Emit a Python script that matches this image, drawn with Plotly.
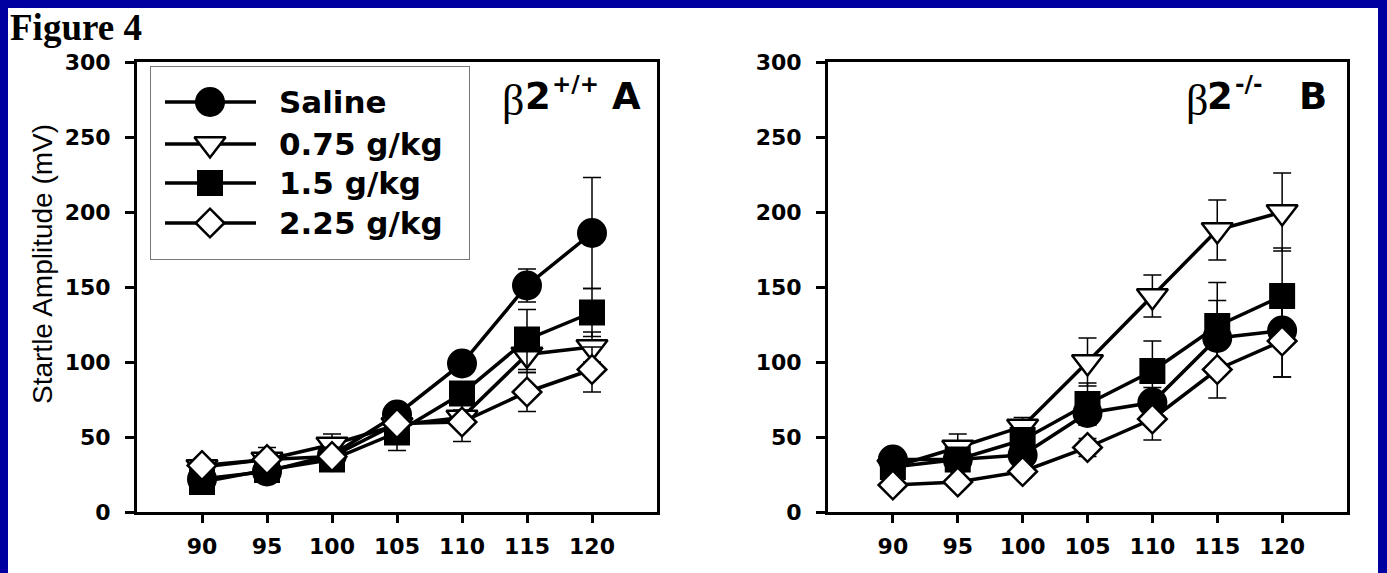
import plotly.graph_objects as go

# ---------------- data ----------------
levels = [90, 95, 100, 105, 110, 115, 120]
series_names = ["Saline", "0.75 g/kg", "1.5 g/kg", "2.25 g/kg"]

# beta2 +/+ (panel A): mean startle amplitude and SEM
a_saline = [22, 27, 38, 65, 99, 151, 186]
a_saline_se = [2, 3, 3, 4, 5, 11, 37]
a_075 = [30, 35, 45, 58, 63, 105, 110]
a_075_se = [3, 8, 7, 5, 5, 12, 10]
a_150 = [20, 28, 35, 53, 79, 115, 133]
a_150_se = [2, 3, 3, 12, 6, 20, 16]
a_225 = [31, 35, 37, 59, 60, 80, 95]
a_225_se = [2, 3, 3, 4, 13, 13, 15]

# beta2 -/- (panel B)
b_saline = [35, 35, 38, 66, 73, 116, 121]
b_saline_se = [3, 3, 4, 8, 10, 25, 31]
b_075 = [30, 43, 57, 100, 144, 188, 200]
b_075_se = [4, 9, 6, 16, 14, 20, 26]
b_150 = [30, 35, 48, 72, 94, 124, 144]
b_150_se = [3, 5, 6, 14, 20, 29, 32]
b_225 = [18, 20, 27, 43, 62, 95, 114]
b_225_se = [2, 3, 4, 6, 14, 19, 24]

y_ticks = [0, 50, 100, 150, 200, 250, 300]

# ---------------- styling ----------------
W, H = 1387, 573
BLUE = "#0000a0"
TICK_FONT = dict(family="DejaVu Sans", size=22, color="black", weight="bold")


def px(x):
    return x / W


def py(y):
    return 1 - y / H


styles = [
    dict(symbol="circle", size=30, color="black", line=dict(color="black", width=0)),
    dict(symbol="triangle-down", size=27, color="white", line=dict(color="black", width=2.5)),
    dict(symbol="square", size=26, color="black", line=dict(color="black", width=0)),
    dict(symbol="diamond", size=22, color="white", line=dict(color="black", width=2.5)),
]

panel_a = [(a_saline, a_saline_se), (a_075, a_075_se), (a_150, a_150_se), (a_225, a_225_se)]
panel_b = [(b_saline, b_saline_se), (b_075, b_075_se), (b_150, b_150_se), (b_225, b_225_se)]

fig = go.Figure()

for axes, panel in (("x", panel_a), ("x2", panel_b)):
    yref = "y" if axes == "x" else "y2"
    for name, (vals, se), mk in zip(series_names, panel, styles):
        fig.add_trace(go.Scatter(
            x=levels, y=vals, name=name, xaxis=axes, yaxis=yref,
            mode="lines+markers",
            line=dict(color="black", width=3.5),
            marker=mk,
            error_y=dict(type="data", array=se, visible=True,
                         color="black", thickness=1.5, width=9),
            showlegend=False,
        ))

# legend box drawn on its own small axis (units are pixels inside the box)
LEG_LINE_X = [14, 105]
LEG_MARK_X = 59
LEG_TEXT_X = 126
LEG_ROWS = [35, 77, 116, 156]
for name, mk, row in zip(series_names, styles, LEG_ROWS):
    fig.add_trace(go.Scatter(
        x=LEG_LINE_X, y=[row, row], xaxis="x3", yaxis="y3", mode="lines",
        line=dict(color="black", width=3.5), showlegend=False, hoverinfo="skip"))
    fig.add_trace(go.Scatter(
        x=[LEG_MARK_X], y=[row], xaxis="x3", yaxis="y3", mode="markers",
        marker=mk, showlegend=False, hoverinfo="skip"))
    fig.add_annotation(
        x=LEG_TEXT_X, y=row, xref="x3", yref="y3", text=name, showarrow=False,
        xanchor="left", yanchor="middle",
        font=dict(family="DejaVu Sans", size=31, color="black", weight="bold"))

common_x = dict(
    range=[85, 125], tickvals=levels, showline=True, linewidth=3, linecolor="black",
    mirror=True, ticks="outside", ticklen=8, tickwidth=3, tickcolor="black",
    tickfont=TICK_FONT, showgrid=False, zeroline=False, ticklabelstandoff=5,
    automargin=False,
)
common_y = dict(
    range=[0, 300], tickvals=y_ticks, showline=True, linewidth=3, linecolor="black",
    mirror=True, ticks="outside", ticklen=9, tickwidth=3, tickcolor="black",
    tickfont=TICK_FONT, showgrid=False, zeroline=False, ticklabelstandoff=10,
    domain=[py(512), py(62)], automargin=False,
)
plain_axis = dict(showline=True, mirror=True, linewidth=1, linecolor="#777777",
                  showticklabels=False, ticks="", showgrid=False, zeroline=False,
                  automargin=False)

fig.update_layout(
    template="none",
    width=W, height=H, autosize=False,
    margin=dict(l=0, r=0, t=0, b=0, pad=0, autoexpand=False),
    paper_bgcolor=BLUE,
    plot_bgcolor="rgba(0,0,0,0)",
    xaxis=dict(domain=[px(137), px(657)], anchor="y", **common_x),
    yaxis=dict(anchor="x", **common_y),
    xaxis2=dict(domain=[px(828), px(1347)], anchor="y2", **common_x),
    yaxis2=dict(anchor="x2", **common_y),
    xaxis3=dict(domain=[px(151), px(469)], anchor="y3", range=[0, 318], **plain_axis),
    yaxis3=dict(domain=[py(259), py(67)], anchor="x3", range=[192, 0], **plain_axis),
    shapes=[dict(type="rect", xref="paper", yref="paper", layer="below",
                 x0=px(8), x1=px(1378), y0=0, y1=py(8),
                 fillcolor="white", line=dict(width=0))],
)

# figure label and axis title
fig.add_annotation(
    x=px(8), y=py(28), xref="paper", yref="paper", text="<b>Figure 4</b>",
    showarrow=False, xanchor="left", yanchor="middle",
    font=dict(family="Liberation Serif", size=37, color="black"))

fig.add_annotation(
    x=px(42), y=py(264), xref="paper", yref="paper", text="Startle Amplitude (mV)",
    textangle=-90, showarrow=False, xanchor="center", yanchor="middle",
    font=dict(family="Liberation Sans", size=28, color="black"))

# panel labels: beta (serif), "2", genotype superscript, panel letter
BETA_FONT = dict(family="Liberation Serif", size=44, color="black")
BIG_FONT = dict(family="DejaVu Sans", size=37, color="black", weight="bold")
SUP_FONT = dict(family="DejaVu Sans", size=23, color="black", weight="bold")
panel_labels = [
    # (genotype, letter, beta-left, two-left, sup-left, letter-right)
    ("+/+", "A", 500, 523, 550, 643),
    ("-/-", "B", 1184, 1205, 1233, 1329),
]
for genotype, letter, x_beta, x_two, x_sup, x_letter in panel_labels:
    for text, x, anchor, y, font in (
        ("β", x_beta, "left", 101, BETA_FONT),
        ("2", x_two, "left", 97, BIG_FONT),
        (genotype, x_sup, "left", 84, SUP_FONT),
        (letter, x_letter, "right", 97, BIG_FONT),
    ):
        fig.add_annotation(
            x=px(x), y=py(y), xref="paper", yref="paper", text=text,
            showarrow=False, xanchor=anchor, yanchor="middle", font=font)

fig.write_html("out.html")
